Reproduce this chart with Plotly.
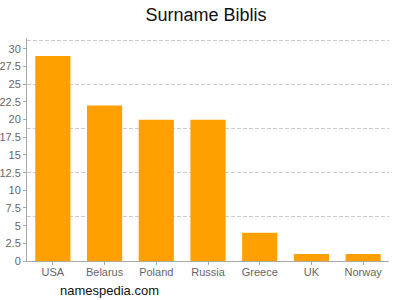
import plotly.graph_objects as go

countries = ["USA", "Belarus", "Poland", "Russia", "Greece", "UK", "Norway"]
counts = [29, 22, 20, 20, 4, 1, 1]
title_text = "Surname Biblis"
source_text = "namespedia.com"

font_family = "Liberation Sans, Arial, sans-serif"
y_max = 31.55

fig = go.Figure()
# invisible trace to anchor the grid axis
fig.add_trace(go.Scatter(x=countries, y=[None] * len(countries), xaxis="x", yaxis="y",
                         mode="markers", hoverinfo="skip", showlegend=False))
fig.add_trace(go.Bar(
    x=countries, y=counts, xaxis="x", yaxis="y2",
    marker=dict(color="#ffa000", line=dict(width=0)),
    hoverinfo="x+y",
))

fig.update_layout(
    width=400, height=300,
    margin=dict(l=27, r=11, t=38, b=39),
    paper_bgcolor="white", plot_bgcolor="white",
    showlegend=False,
    bargap=0.32,
    font=dict(family=font_family, size=11, color="#666666"),
    title=dict(text=title_text, x=0.515, xanchor="center", y=0.952, yanchor="middle",
               font=dict(family=font_family, size=18, color="#111111")),
    xaxis=dict(
        automargin=False,
        showline=True, linecolor="#aaaaaa", linewidth=1,
        ticks="outside", ticklen=3, tickcolor="#aaaaaa",
        ticklabelstandoff=-2,
        showgrid=False, zeroline=False,
        tickfont=dict(size=11, color="#666666"),
    ),
    yaxis=dict(
        automargin=False,
        range=[0, y_max], dtick=6.25, tick0=0,
        showgrid=True, gridcolor="#cccccc", griddash="4px,2px", gridwidth=1,
        showticklabels=False, ticks="", zeroline=False, showline=False,
    ),
    yaxis2=dict(
        automargin=False,
        overlaying="y", side="left",
        range=[0, y_max], dtick=2.5, tick0=0,
        showgrid=False, zeroline=False,
        showline=True, linecolor="#aaaaaa", linewidth=1,
        ticks="outside", ticklen=3, tickcolor="#aaaaaa",
        tickfont=dict(size=11, color="#666666"),
    ),
    annotations=[dict(
        text=source_text, xref="paper", yref="paper", x=0.0856, y=-0.134,
        xanchor="left", yanchor="middle", showarrow=False,
        font=dict(family=font_family, size=13, color="#111111"),
    )],
)

fig.write_html("out.html")
